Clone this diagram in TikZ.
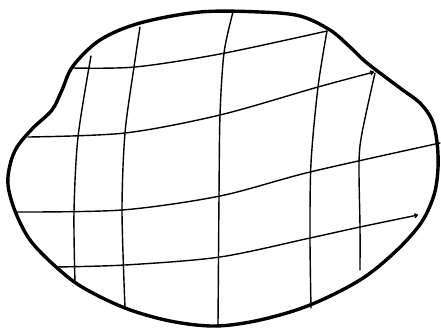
\documentclass[tikz,border=0pt]{standalone}
\usetikzlibrary{arrows.meta}
\begin{document}
\begin{tikzpicture}[x=1pt,y=-1pt,
  outline/.style={line width=3.4pt,line join=round},
  gridline/.style={line width=1.4pt,line cap=round},
  arr/.style={-{To[length=4pt,width=5pt]}}]
\useasboundingbox (0,0) rectangle (441,327);
\draw[outline] plot[smooth cycle,tension=0.55] coordinates{
 (73,66) (100,40) (140,23) (200,12) (260,12) (300,16) (330,30) (350,47) (367,63) (400,88)
 (420,103) (432,120) (437,142) (438,168) (434,195) (421,223) (395,252) (360,280) (310,305)
 (260,320) (215,326) (170,321) (125,308) (82,287) (55,266) (30,240) (15,211) (8,185)
 (10,165) (17,147) (33,128) (52,110) (62,90)};
% horizontal lines
\draw[gridline] plot[smooth] coordinates{(73,68) (135,67) (220,54) (327,31)};
\draw[gridline,arr] plot[smooth] coordinates{(28,137) (125,133) (220,115) (318,87) (374,72)};
\draw[gridline] plot[smooth] coordinates{(15,212) (122,210) (220,196) (310,172) (440,143)};
\draw[gridline,arr] plot[smooth] coordinates{(55,267) (125,265) (220,257) (310,238) (360,227) (418,215)};
% vertical lines
\draw[gridline] plot[smooth] coordinates{(91,56) (78,137) (74,212) (75,283)};
\draw[gridline] plot[smooth] coordinates{(140,27) (134,67) (125,133) (122,210) (125,308)};
\draw[gridline] plot[smooth] coordinates{(233,12) (224,53) (220,115) (219,196) (218,325)};
\draw[gridline] plot[smooth] coordinates{(327,31) (318,87) (311,163) (310,238) (311,308)};
\draw[gridline] plot[smooth] coordinates{(375,73) (362,133) (359,163) (360,227) (360,270)};
\end{tikzpicture}
\end{document}
